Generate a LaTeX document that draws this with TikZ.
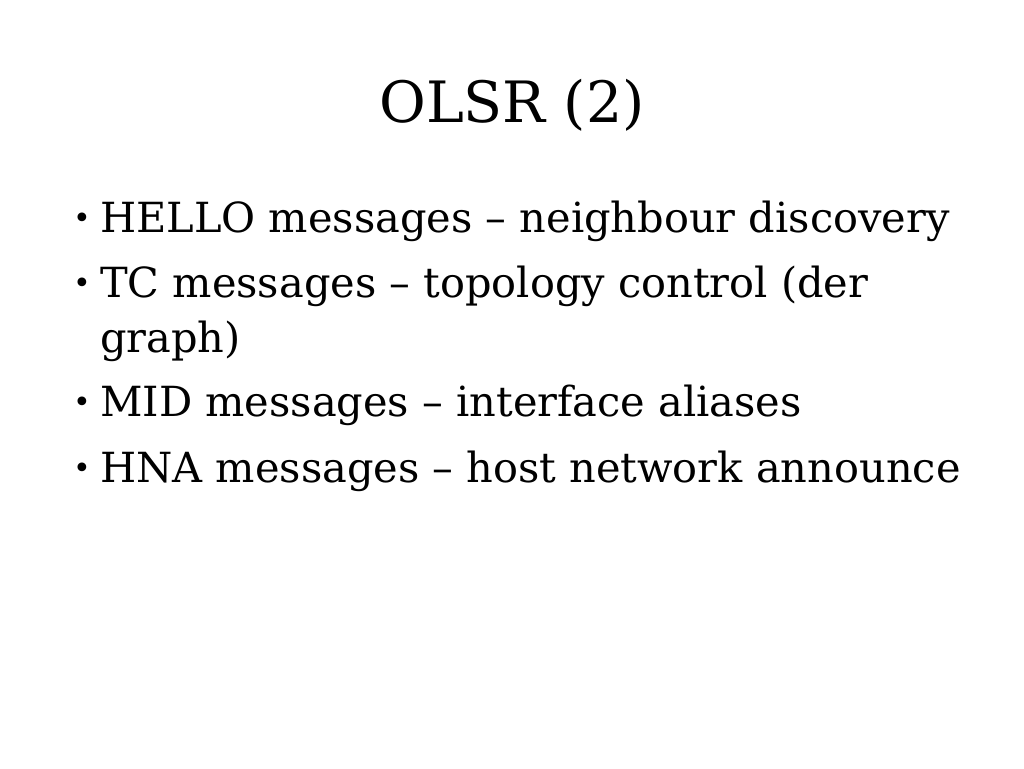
\documentclass[tikz,border=0pt]{standalone}
\usepackage{fontspec}
\setmainfont{DejaVu Serif}
\begin{document}
\begin{tikzpicture}[x=1pt,y=-1pt,
  body/.style={anchor=base west,inner sep=0pt,font=\fontsize{41.5}{48}\selectfont},
  bul/.style={anchor=base west,inner sep=0pt,font=\fontsize{30}{36}\selectfont}]
\useasboundingbox[fill=white] (0,0) rectangle (1024,768);
\node[anchor=base,inner sep=0pt,font=\fontsize{57}{66}\selectfont] (title) at (512,122) {OLSR (2)};
\node[bul] (b1) at (73,228) {•};
\node[body] (t1) at (100,232) {HELLO messages – neighbour discovery};
\node[bul] (b2) at (73,293) {•};
\node[body] (t2) at (100,297) {TC messages – topology control (der};
\node[body] (t2b) at (100,352) {graph)};
\node[bul] (b3) at (73,412) {•};
\node[body] (t3) at (100,416) {MID messages – interface aliases};
\node[bul] (b4) at (73,478) {•};
\node[body] (t4) at (100,482) {HNA messages – host network announce};
\end{tikzpicture}
\end{document}
